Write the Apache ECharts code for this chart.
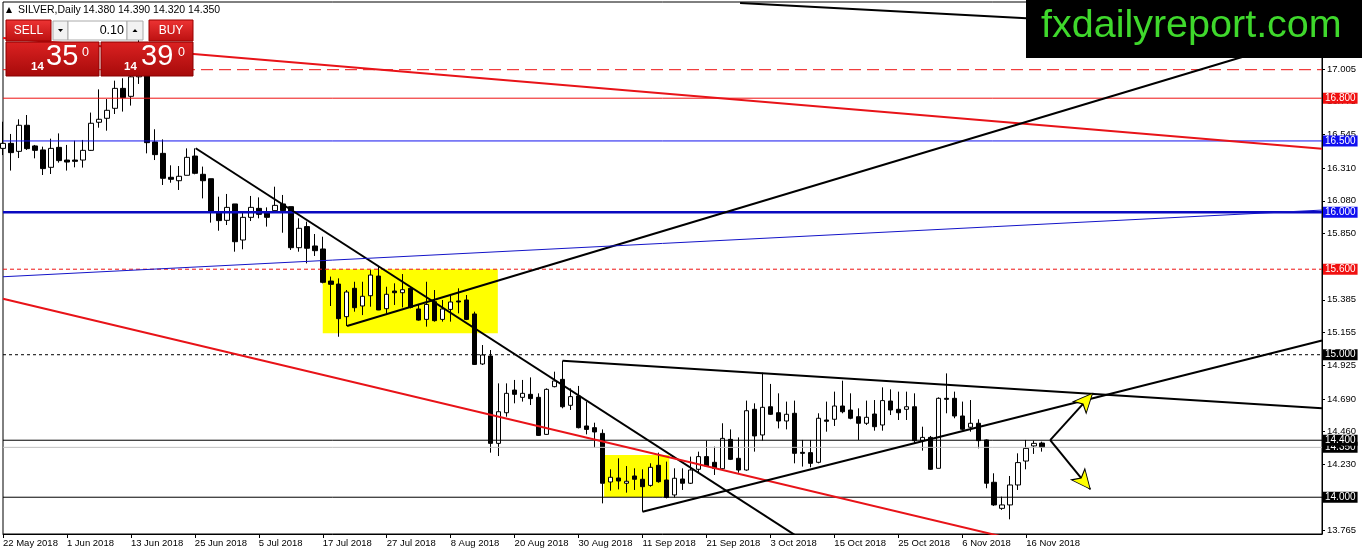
<!DOCTYPE html>
<html><head><meta charset="utf-8">
<script src="https://cdn.jsdelivr.net/npm/echarts@6/dist/echarts.min.js"></script>
<style>html,body{margin:0;padding:0;background:#fff}#c{width:1362px;height:554px}</style>
</head><body><div id="c"></div>
<script>
// ---------- DATA ----------
const dateLabels = ['22 May 2018','1 Jun 2018','13 Jun 2018','25 Jun 2018','5 Jul 2018','17 Jul 2018','27 Jul 2018','8 Aug 2018','20 Aug 2018','30 Aug 2018','11 Sep 2018','21 Sep 2018','3 Oct 2018','15 Oct 2018','25 Oct 2018','6 Nov 2018','16 Nov 2018'];

const opens = [16.448,16.483,16.427,16.610,16.465,16.437,16.315,16.455,16.366,16.366,
16.366,16.434,16.631,16.659,16.729,16.869,16.813,16.950,17.120,16.493,
16.413,16.245,16.221,16.259,16.394,16.266,16.235,16.000,15.943,16.058,
15.805,15.964,16.027,16.004,16.011,16.058,16.039,15.751,15.899,15.763,
15.742,15.517,15.496,15.267,15.466,15.342,15.414,15.552,15.323,15.447,
15.435,15.466,15.321,15.248,15.372,15.248,15.318,15.377,15.384,15.286,
14.935,14.991,14.378,14.593,14.752,14.701,14.722,14.701,14.441,14.776,
14.827,14.645,14.710,14.500,14.488,14.448,14.107,14.135,14.098,14.149,
14.126,14.083,14.224,14.121,14.016,14.128,14.098,14.196,14.285,14.245,
14.200,14.406,14.273,14.191,14.617,14.437,14.635,14.593,14.535,14.589,
14.315,14.313,14.245,14.542,14.547,14.640,14.612,14.565,14.519,14.584,
14.507,14.675,14.617,14.617,14.635,14.397,14.420,14.203,14.694,14.694,
14.570,14.491,14.519,14.402,14.105,13.922,13.946,14.086,14.254,14.360,14.380];
const highs = [16.635,16.549,16.652,16.682,16.472,16.460,16.516,16.553,16.472,16.502,
16.507,16.699,16.862,16.794,16.923,16.940,17.020,17.300,17.150,16.582,
16.511,16.329,16.324,16.448,16.448,16.320,16.235,16.109,16.128,16.058,
16.004,16.114,16.104,16.034,16.179,16.121,16.039,15.957,15.934,15.847,
15.828,15.548,15.536,15.454,15.512,15.512,15.594,15.622,15.477,15.501,
15.566,15.477,15.349,15.512,15.454,15.384,15.419,15.466,15.419,15.302,
15.068,15.033,14.799,14.799,14.823,14.823,14.841,14.729,14.764,14.881,
14.958,14.764,14.781,14.671,14.523,14.476,14.196,14.273,14.219,14.203,
14.196,14.238,14.313,14.250,14.203,14.203,14.285,14.320,14.397,14.355,
14.519,14.476,14.420,14.678,14.659,14.874,14.795,14.729,14.671,14.678,
14.402,14.402,14.589,14.671,14.741,14.818,14.729,14.624,14.678,14.682,
14.771,14.757,14.741,14.741,14.729,14.495,14.430,14.701,14.869,14.741,
14.671,14.682,14.547,14.406,14.168,14.004,14.149,14.308,14.402,14.397,14.390];
const lows = [16.401,16.292,16.380,16.437,16.378,16.261,16.268,16.348,16.292,16.315,
16.313,16.430,16.593,16.572,16.689,16.706,16.748,16.900,16.413,16.366,
16.191,16.207,16.156,16.259,16.266,16.097,15.927,15.870,15.910,15.723,
15.740,15.938,15.957,15.899,16.011,15.856,15.735,15.723,15.641,15.693,
15.501,15.342,15.126,15.201,15.302,15.278,15.337,15.313,15.290,15.349,
15.332,15.325,15.239,15.197,15.232,15.232,15.232,15.290,15.243,14.928,
14.928,14.313,14.289,14.565,14.659,14.671,14.647,14.430,14.437,14.771,
14.624,14.612,14.483,14.441,14.348,13.957,14.046,14.055,14.032,14.051,
13.899,14.074,14.102,13.992,13.999,14.051,14.093,14.168,14.214,14.156,
14.191,14.261,14.172,14.186,14.320,14.397,14.577,14.483,14.476,14.238,
14.215,14.210,14.238,14.460,14.500,14.589,14.547,14.402,14.507,14.467,
14.467,14.577,14.542,14.542,14.378,14.327,14.191,14.203,14.589,14.554,
14.472,14.460,14.343,14.063,13.939,13.911,13.845,14.051,14.196,14.304,14.320];
const closes = [16.483,16.418,16.610,16.446,16.434,16.306,16.448,16.362,16.352,16.357,
16.434,16.624,16.652,16.715,16.869,16.804,16.950,17.120,16.488,16.404,
16.238,16.231,16.252,16.385,16.273,16.221,16.000,15.941,16.034,15.793,
15.964,16.034,15.985,15.964,16.048,16.011,15.751,15.887,15.747,15.730,
15.508,15.494,15.253,15.440,15.330,15.410,15.559,15.314,15.424,15.435,
15.456,15.332,15.243,15.353,15.239,15.321,15.370,15.370,15.248,14.932,
14.998,14.378,14.600,14.729,14.722,14.729,14.692,14.434,14.757,14.816,
14.635,14.706,14.488,14.476,14.458,14.098,14.140,14.114,14.112,14.126,
14.074,14.210,14.109,13.999,14.133,14.098,14.191,14.285,14.219,14.203,
14.413,14.266,14.191,14.607,14.430,14.631,14.582,14.535,14.582,14.308,
14.308,14.238,14.554,14.533,14.640,14.600,14.554,14.519,14.561,14.495,
14.678,14.612,14.593,14.635,14.397,14.420,14.196,14.694,14.687,14.570,
14.477,14.519,14.397,14.098,13.946,13.946,14.086,14.243,14.343,14.378,14.350];

const tickValues = [17.005,16.775,16.545,16.310,16.080,15.850,15.615,15.385,15.155,14.925,14.690,14.460,14.230,13.995,13.765];
const levelValues = [17.000,16.800,16.500,16.000,15.600,15.000,14.350,14.400,14.000];
// [startBar, startPrice, endBar, endPrice]
const trendLines = [
  [92.2,17.468,165,17.250],
  [0,17.223,165,16.446],
  [43.04,15.201,165,17.258],
  [24.1,16.449,100,13.701],
  [0,15.547,165,16.015],
  [0,15.393,165,13.190],
  [70,14.958,165,14.625],
  [80,13.898,165,15.100]
];
// [fromBar, topPrice, toBar, bottomPrice]
const boxes = [[40.0,15.599,61.9,15.150],[75.2,14.296,83.35,14.001]];
const arrowStart = [131,14.401];
const arrowEnds = [[136.3,14.729],[136.0,14.057]];
const quote = [14.380,14.390,14.320,14.350];
const bidAsk = [14.350,14.390];
const lotSize = '0.10';
const symbolName = 'SILVER,Daily';
const brand = 'fxdailyreport.com';

// ---------- STYLES ----------
const FONT = 'Liberation Sans, Arial, sans-serif';
const RED = '#ee1111', BLUE = '#1010ee', BLACK = '#000';
const levelStyles = {
  '17':   {line:{color:RED,width:1,type:[12,6]}, label:null},
  '16.8': {line:{color:RED,width:1,type:'solid'}, label:'#f01010'},
  '16.5': {line:{color:BLUE,width:1,type:'solid'}, label:'#1010f0'},
  '16':   {line:{color:'#0a0ac0',width:2.5,type:'solid'}, label:'#1010f0'},
  '15.6': {line:{color:RED,width:1,type:[4,3]}, label:'#f01010'},
  '15':   {line:{color:BLACK,width:1,type:[3,3]}, label:'#000'},
  '14.35':{line:{color:'#c0c0c0',width:1,type:'solid'}, label:'#000'},
  '14.4': {line:{color:BLACK,width:1,type:'solid'}, label:'#000'},
  '14':   {line:{color:BLACK,width:1,type:'solid'}, label:'#000'}
};
const trendStyles = [
  {color:BLACK,width:2},{color:'#e81318',width:2},{color:BLACK,width:2},{color:BLACK,width:2},
  {color:'#1414c8',width:1},{color:'#e81318',width:2},{color:BLACK,width:2},{color:BLACK,width:2}
];

const N_CAT = 166;
const categories = [];
for (let i = 0; i < N_CAT; i++) categories.push(i % 8 === 0 && i / 8 < dateLabels.length ? dateLabels[i / 8] : '');
const candleData = opens.map((o, i) => [o, closes[i], lows[i], highs[i]]);

const series = [];
series.push({
  type:'line', xAxisIndex:1, data:[], z:1, silent:true,
  markArea:{silent:true, itemStyle:{color:'#ffff00'},
    data: boxes.map(b => [{coord:[b[0], b[1]]},{coord:[b[2], b[3]]}])}
});
series.push({
  type:'candlestick', xAxisIndex:0, data:candleData, barWidth:5, z:2, silent:true,
  itemStyle:{color:'#ffffff', color0:'#000000', borderColor:'#000', borderColor0:'#000', borderWidth:1}
});
levelValues.forEach(v => {
  const s = levelStyles[String(v)];
  series.push({
    type:'line', xAxisIndex:1, data:[[0, v],[N_CAT - 1, v]], symbol:'none', silent:true, z:3,
    lineStyle:s.line, color:s.line.color,
    endLabel: s.label ? {show:true, formatter: v.toFixed(3), color:'#fff', backgroundColor:s.label,
      distance:1, fontFamily:FONT, fontSize:10, padding:[1,2,0,2], lineHeight:10} : {show:false}
  });
});
trendLines.forEach((t, k) => series.push({
  type:'line', xAxisIndex:1, data:[[t[0], t[1]],[t[2], t[3]]], symbol:'none', silent:true, z:4,
  lineStyle:trendStyles[k], color:trendStyles[k].color
}));
arrowEnds.forEach((e, k) => series.push({
  id:'arrow' + k, type:'line', xAxisIndex:1, z:6, silent:true, showSymbol:true, showAllSymbol:true,
  lineStyle:{color:BLACK, width:2}, color:BLACK,
  data:[{value:arrowStart, symbol:'none'},
        {value:e, symbol:'arrow', symbolSize:[13,19], symbolRotate:0,
         itemStyle:{color:'#ffff00', borderColor:'#000', borderWidth:1}}]
}));

function txt(text, x, y, size, opts) {
  opts = opts || {};
  return {type:'text', z:101, style:{text:text, x:x, y:y, fill: opts.fill || '#fff',
    font: (opts.bold ? 'bold ' : '') + size + 'px ' + FONT,
    align: opts.align || 'left', verticalAlign:'middle'}};
}
const redGrad = (a, b) => ({type:'linear', x:0, y:0, x2:0, y2:1, colorStops:[{offset:0,color:a},{offset:1,color:b}]});
const bidStr = bidAsk[0].toFixed(3), askStr = bidAsk[1].toFixed(3);
const graphics = [
  // logo
  {type:'rect', z:100, shape:{x:1026, y:0, width:336, height:58}, style:{fill:'#000'}},
  txt(brand, 1041, 26, 39.5, {fill:'#3fd82c'}),
  // header
  {type:'polygon', z:100, shape:{points:[[6,13],[9,7],[12,13]]}, style:{fill:'#000'}},
  txt(symbolName, 18, 10.5, 10.5, {fill:'#000'}),
  txt(quote.map(q => q.toFixed(3)).join(' '), 83, 10.5, 10.5, {fill:'#000'}),
  // one-click panel
  {type:'rect', z:100, shape:{x:6, y:20, width:45, height:21}, style:{fill:redGrad('#ee3434','#bb1010'), stroke:'#9a0000'}},
  txt('SELL', 28.5, 31, 12, {align:'center'}),
  {type:'rect', z:100, shape:{x:53, y:21, width:15, height:19}, style:{fill:'#f2f2f2', stroke:'#aaa'}},
  {type:'polygon', z:101, shape:{points:[[58,29],[63,29],[60.5,32]]}, style:{fill:'#000'}},
  {type:'rect', z:100, shape:{x:68, y:21, width:59, height:19}, style:{fill:'#fff', stroke:'#aaa'}},
  txt(lotSize, 124, 31, 12.5, {fill:'#000', align:'right'}),
  {type:'rect', z:100, shape:{x:127, y:21, width:16, height:19}, style:{fill:'#f2f2f2', stroke:'#aaa'}},
  {type:'polygon', z:101, shape:{points:[[132.5,32],[137.5,32],[135,29]]}, style:{fill:'#000'}},
  {type:'rect', z:100, shape:{x:149, y:20, width:44, height:21}, style:{fill:redGrad('#ee3434','#bb1010'), stroke:'#9a0000'}},
  txt('BUY', 171, 31, 12, {align:'center'}),
  {type:'rect', z:100, shape:{x:6, y:42, width:93, height:34}, style:{fill:redGrad('#dc2222','#a60a0a'), stroke:'#8a0000'}},
  {type:'rect', z:100, shape:{x:101, y:42, width:92, height:34}, style:{fill:redGrad('#dc2222','#a60a0a'), stroke:'#8a0000'}},
  txt(bidStr.slice(0,2), 31, 67, 11.5, {bold:true}),
  txt(bidStr.slice(3,5), 46, 57, 29),
  txt(bidStr.slice(5,6), 82, 52.5, 12.5),
  txt(askStr.slice(0,2), 124, 67, 11.5, {bold:true}),
  txt(askStr.slice(3,5), 141, 57, 29),
  txt(askStr.slice(5,6), 178, 52.5, 12.5)
];

const chart = echarts.init(document.getElementById('c'), null, {renderer:'canvas'});
chart.setOption({
  animation:false,
  backgroundColor:'#fff',
  grid:{left:3, right:40, top:2, bottom:20, show:true, borderColor:'#000', borderWidth:1, backgroundColor:'#fff'},
  xAxis:[
    {type:'category', data:categories, boundaryGap:false,
     axisLine:{onZero:false, lineStyle:{color:'#000', width:1}},
     axisTick:{interval:(i) => i % 8 === 0 && i <= 128, length:4, lineStyle:{color:'#000'}},
     axisLabel:{interval:0, align:'left', fontSize:9.5, fontFamily:FONT, color:'#000', margin:4},
     splitLine:{show:false}},
    {type:'value', min:0, max:N_CAT - 1, show:false}
  ],
  yAxis:{type:'value', position:'right', min:13.742, max:17.475, scale:true,
     axisLine:{show:true, onZero:false, lineStyle:{color:'#000'}},
     axisTick:{show:true, customValues:tickValues, length:3, lineStyle:{color:'#000'}},
     axisLabel:{customValues:tickValues, formatter:(v) => Number(v).toFixed(3), fontSize:9.5, fontFamily:FONT, color:'#000', margin:5},
     splitLine:{show:false}},
  series:series,
  graphic:{elements:graphics}
});

// orient the arrow heads along their shafts (pixel geometry from the chart's own scales)
const upd = arrowEnds.map((e, k) => {
  const sIdx = series.findIndex(s => s.id === 'arrow' + k);
  const p0 = chart.convertToPixel({seriesIndex:sIdx}, arrowStart);
  const p1 = chart.convertToPixel({seriesIndex:sIdx}, e);
  const dx = p1[0] - p0[0], dy = p1[1] - p0[1];
  const rot = Math.atan2(-dx, -dy) * 180 / Math.PI;
  return {id:'arrow' + k, data:[{value:arrowStart, symbol:'none'},
    {value:e, symbol:'arrow', symbolSize:[13,19], symbolRotate:rot,
     itemStyle:{color:'#ffff00', borderColor:'#000', borderWidth:1}}]};
});
chart.setOption({series:upd});
</script></body></html>
